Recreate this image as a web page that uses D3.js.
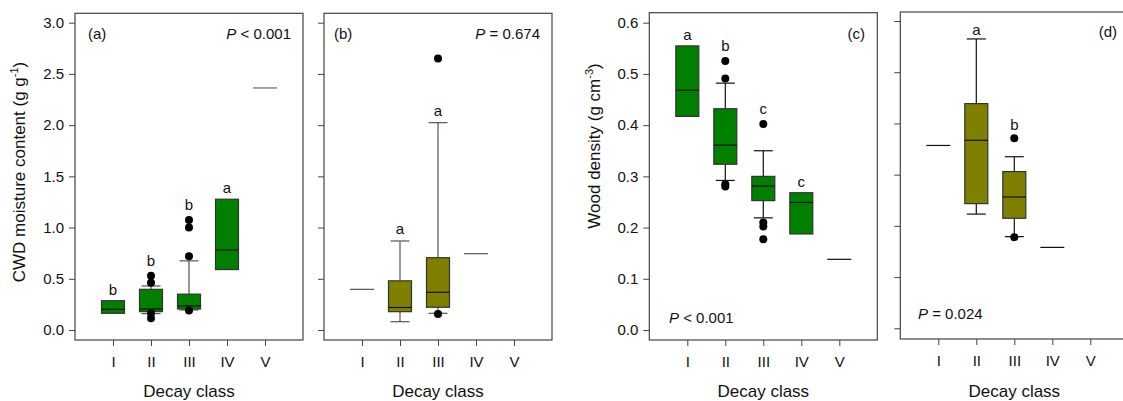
<!DOCTYPE html>
<html>
<head>
<meta charset="utf-8">
<script src="https://cdn.jsdelivr.net/npm/d3@7"></script>
<style>
  html, body { margin: 0; padding: 0; background: #fff; }
  svg { display: block; font-family: "Liberation Sans", Arial, sans-serif; }
</style>
</head>
<body>
<svg id="chart" width="1123" height="401"></svg>
<script>
// ---------- DATA ----------
const classes = ["I", "II", "III", "IV", "V"];

// (a) CWD moisture content, green
const aQ1 = [0.163, 0.179, 0.205, 0.59, null];
const aMed = [0.202, 0.205, 0.235, 0.78, 2.363];
const aQ3 = [0.286, 0.397, 0.35, 1.277, null];
const aWLo = [null, 0.16, 0.195, null, null];
const aWHi = [null, 0.43, 0.675, null, null];
const aOut = [[], [0.53, 0.462, 0.163, 0.114], [1.075, 1.0, 0.72, 0.19], [], []];
const aLetters = ["b", "b", "b", "a", ""];

// (b) CWD moisture content, olive
const bQ1 = [null, 0.179, 0.222, null, null];
const bMed = [0.397, 0.22, 0.368, 0.745, null];
const bQ3 = [null, 0.48, 0.706, null, null];
const bWLo = [null, 0.081, 0.163, null, null];
const bWHi = [null, 0.869, 2.024, null, null];
const bOut = [[], [], [2.65, 0.156], [], []];
const bLetters = ["", "a", "a", "", ""];

// (c) Wood density, green
const cQ1 = [0.417, 0.3236, 0.2526, 0.1875, null];
const cMed = [0.468, 0.361, 0.281, 0.249, 0.138];
const cQ3 = [0.5547, 0.432, 0.30, 0.268, null];
const cWLo = [null, 0.292, 0.219, null, null];
const cWHi = [null, 0.482, 0.35, null, null];
const cOut = [[], [0.525, 0.491, 0.2845, 0.280], [0.402, 0.21, 0.202, 0.177], [], []];
const cLetters = ["a", "b", "c", "c", ""];

// (d) Wood density, olive
const dQ1 = [null, 0.2434, 0.2148, null, null];
const dMed = [0.357, 0.367, 0.2564, 0.158, null];
const dQ3 = [null, 0.4387, 0.306, null, null];
const dWLo = [null, 0.223, 0.179, null, null];
const dWHi = [null, 0.565, 0.335, null, null];
const dOut = [[], [], [0.371, 0.178], [], []];
const dLetters = ["", "a", "b", "", ""];

const moistTicks = [0, 0.5, 1.0, 1.5, 2.0, 2.5, 3.0];
const densTicks = [0, 0.1, 0.2, 0.3, 0.4, 0.5, 0.6];

// ---------- DRAW ----------
const svg = d3.select("#chart");
const GREEN = "#007f00", OLIVE = "#7f7f00";

function panel(cfg) {
  const g = svg.append("g");
  const x = d3.scalePoint().domain(["", ...classes, " "]).range([cfg.left, cfg.left + 228]);
  const y = d3.scaleLinear().domain([cfg.ymin, cfg.ymax]).range([cfg.y0, cfg.yTop]);
  const bw = 23, cw = 19;
  const span = cfg.ymax - cfg.ymin;

  // frame
  g.append("rect").attr("x", cfg.left).attr("y", cfg.frameTop)
    .attr("width", 228).attr("height", cfg.frameBottom - cfg.frameTop)
    .attr("fill", "none").attr("stroke", "#444").attr("stroke-width", 1.2);

  // y axis ticks
  const ya = d3.axisLeft(y).tickValues(cfg.ticks).tickSize(6).tickPadding(5)
    .tickFormat(cfg.showLabels ? d3.format(".1f") : () => "");
  const yg = g.append("g").attr("transform", `translate(${cfg.left},0)`).call(ya);
  yg.select(".domain").remove();
  yg.selectAll("line").attr("stroke", "#444");
  yg.selectAll("text").attr("font-size", 15).attr("fill", "#111");

  // x axis ticks
  const xa = d3.axisBottom(x).tickValues(classes).tickSize(6).tickPadding(10);
  const xg = g.append("g").attr("transform", `translate(0,${cfg.frameBottom})`).call(xa);
  xg.select(".domain").remove();
  xg.selectAll("line").attr("stroke", "#444");
  xg.selectAll("text").attr("font-size", 15).attr("fill", "#111");

  // x axis title
  g.append("text").attr("x", cfg.left + 114).attr("y", 397).attr("text-anchor", "middle")
    .attr("font-size", 17).attr("fill", "#111").text("Decay class");

  classes.forEach((c, i) => {
    const cx = x(c);
    const q1 = cfg.q1[i], q3 = cfg.q3[i], med = cfg.med[i];
    const wlo = cfg.wlo[i], whi = cfg.whi[i];
    // whiskers
    if (whi != null) {
      g.append("line").attr("x1", cx).attr("x2", cx).attr("y1", y(q3)).attr("y2", y(whi))
        .attr("stroke", cfg.wColor).attr("stroke-width", 1.2);
      g.append("line").attr("x1", cx - cw / 2).attr("x2", cx + cw / 2).attr("y1", y(whi)).attr("y2", y(whi))
        .attr("stroke", cfg.wColor).attr("stroke-width", 1.2);
    }
    if (wlo != null) {
      g.append("line").attr("x1", cx).attr("x2", cx).attr("y1", y(q1)).attr("y2", y(wlo))
        .attr("stroke", cfg.wColor).attr("stroke-width", 1.2);
      g.append("line").attr("x1", cx - cw / 2).attr("x2", cx + cw / 2).attr("y1", y(wlo)).attr("y2", y(wlo))
        .attr("stroke", cfg.wColor).attr("stroke-width", 1.2);
    }
    if (q1 != null) {
      g.append("rect").attr("x", cx - bw / 2).attr("y", y(q3)).attr("width", bw)
        .attr("height", y(q1) - y(q3)).attr("fill", cfg.fill)
        .attr("stroke", "#333").attr("stroke-width", 1.2);
      g.append("line").attr("x1", cx - bw / 2).attr("x2", cx + bw / 2).attr("y1", y(med)).attr("y2", y(med))
        .attr("stroke", "#111").attr("stroke-width", 1.2);
    } else if (med != null) {
      g.append("line").attr("x1", cx - bw / 2 - 0.5).attr("x2", cx + bw / 2 + 0.5).attr("y1", y(med)).attr("y2", y(med))
        .attr("stroke", cfg.sColor).attr("stroke-width", 1.2);
    }
    // outliers
    cfg.out[i].forEach(v => {
      g.append("circle").attr("cx", cx).attr("cy", y(v)).attr("r", 4).attr("fill", "#000");
    });
    // letters: above the box/whisker, and above nearby outliers
    if (cfg.letters[i]) {
      const vals = [q3, whi, med].filter(v => v != null);
      const topVal = d3.max(vals);
      let top = y(topVal);
      const near = cfg.out[i].filter(v => v > topVal && v - topVal < 0.2 * span);
      if (near.length) top = Math.min(top, y(d3.max(near)) - 4);
      g.append("text").attr("x", cx).attr("y", top - cfg.letterGap).attr("text-anchor", "middle")
        .attr("font-size", 15).attr("fill", "#111").text(cfg.letters[i]);
    }
  });

  // panel tag & P value
  g.append("text").attr("x", cfg.tagX).attr("y", cfg.tagY).attr("text-anchor", cfg.tagAnchor)
    .attr("font-size", 15).attr("fill", "#111").text(cfg.tag);
  const pt = g.append("text").attr("x", cfg.pX).attr("y", cfg.pY).attr("text-anchor", cfg.pAnchor)
    .attr("font-size", 15).attr("fill", "#111");
  pt.append("tspan").attr("font-style", "italic").text("P");
  pt.append("tspan").text(cfg.pText);
  return g;
}

panel({ left: 75, frameTop: 13.3, frameBottom: 340, ymin: 0, ymax: 3, y0: 330, yTop: 22.7,
  ticks: moistTicks, showLabels: true, q1: aQ1, med: aMed, q3: aQ3, wlo: aWLo, whi: aWHi, out: aOut,
  letters: aLetters, fill: GREEN, wColor: "#555", sColor: "#666", letterGap: 6,
  tag: "(a)", tagX: 88, tagY: 39, tagAnchor: "start", pText: " < 0.001", pX: 291, pY: 39, pAnchor: "end" });

panel({ left: 324, frameTop: 13.3, frameBottom: 340, ymin: 0, ymax: 3, y0: 330, yTop: 22.7,
  ticks: moistTicks, showLabels: false, q1: bQ1, med: bMed, q3: bQ3, wlo: bWLo, whi: bWHi, out: bOut,
  letters: bLetters, fill: OLIVE, wColor: "#555", sColor: "#555", letterGap: 7,
  tag: "(b)", tagX: 334, tagY: 39, tagAnchor: "start", pText: " = 0.674", pX: 540, pY: 39, pAnchor: "end" });

panel({ left: 649.3, frameTop: 12.7, frameBottom: 340, ymin: 0, ymax: 0.6, y0: 330, yTop: 22.7,
  ticks: densTicks, showLabels: true, q1: cQ1, med: cMed, q3: cQ3, wlo: cWLo, whi: cWHi, out: cOut,
  letters: cLetters, fill: GREEN, wColor: "#111", sColor: "#111", letterGap: 6,
  tag: "(c)", tagX: 865, tagY: 39, tagAnchor: "end", pText: " < 0.001", pX: 669, pY: 323, pAnchor: "start" });

panel({ left: 900.3, frameTop: 12, frameBottom: 339, ymin: 0, ymax: 0.6, y0: 328.3, yTop: 21,
  ticks: densTicks, showLabels: false, q1: dQ1, med: dMed, q3: dQ3, wlo: dWLo, whi: dWHi, out: dOut,
  letters: dLetters, fill: OLIVE, wColor: "#111", sColor: "#111", letterGap: 4,
  tag: "(d)", tagX: 1117, tagY: 37, tagAnchor: "end", pText: " = 0.024", pX: 918, pY: 319, pAnchor: "start" });

// y axis titles
const ya1 = svg.append("text").attr("transform", "translate(25,172) rotate(-90)")
  .attr("text-anchor", "middle").attr("font-size", 17).attr("fill", "#111");
ya1.append("tspan").text("CWD moisture content (g g");
ya1.append("tspan").attr("font-size", 11).attr("dy", -7).text("-1");
ya1.append("tspan").attr("dy", 7).text(")");

const ya2 = svg.append("text").attr("transform", "translate(600,146) rotate(-90)")
  .attr("text-anchor", "middle").attr("font-size", 17).attr("fill", "#111");
ya2.append("tspan").text("Wood density (g cm");
ya2.append("tspan").attr("font-size", 11).attr("dy", -7).text("-3");
ya2.append("tspan").attr("dy", 7).text(")");
</script>
</body>
</html>
